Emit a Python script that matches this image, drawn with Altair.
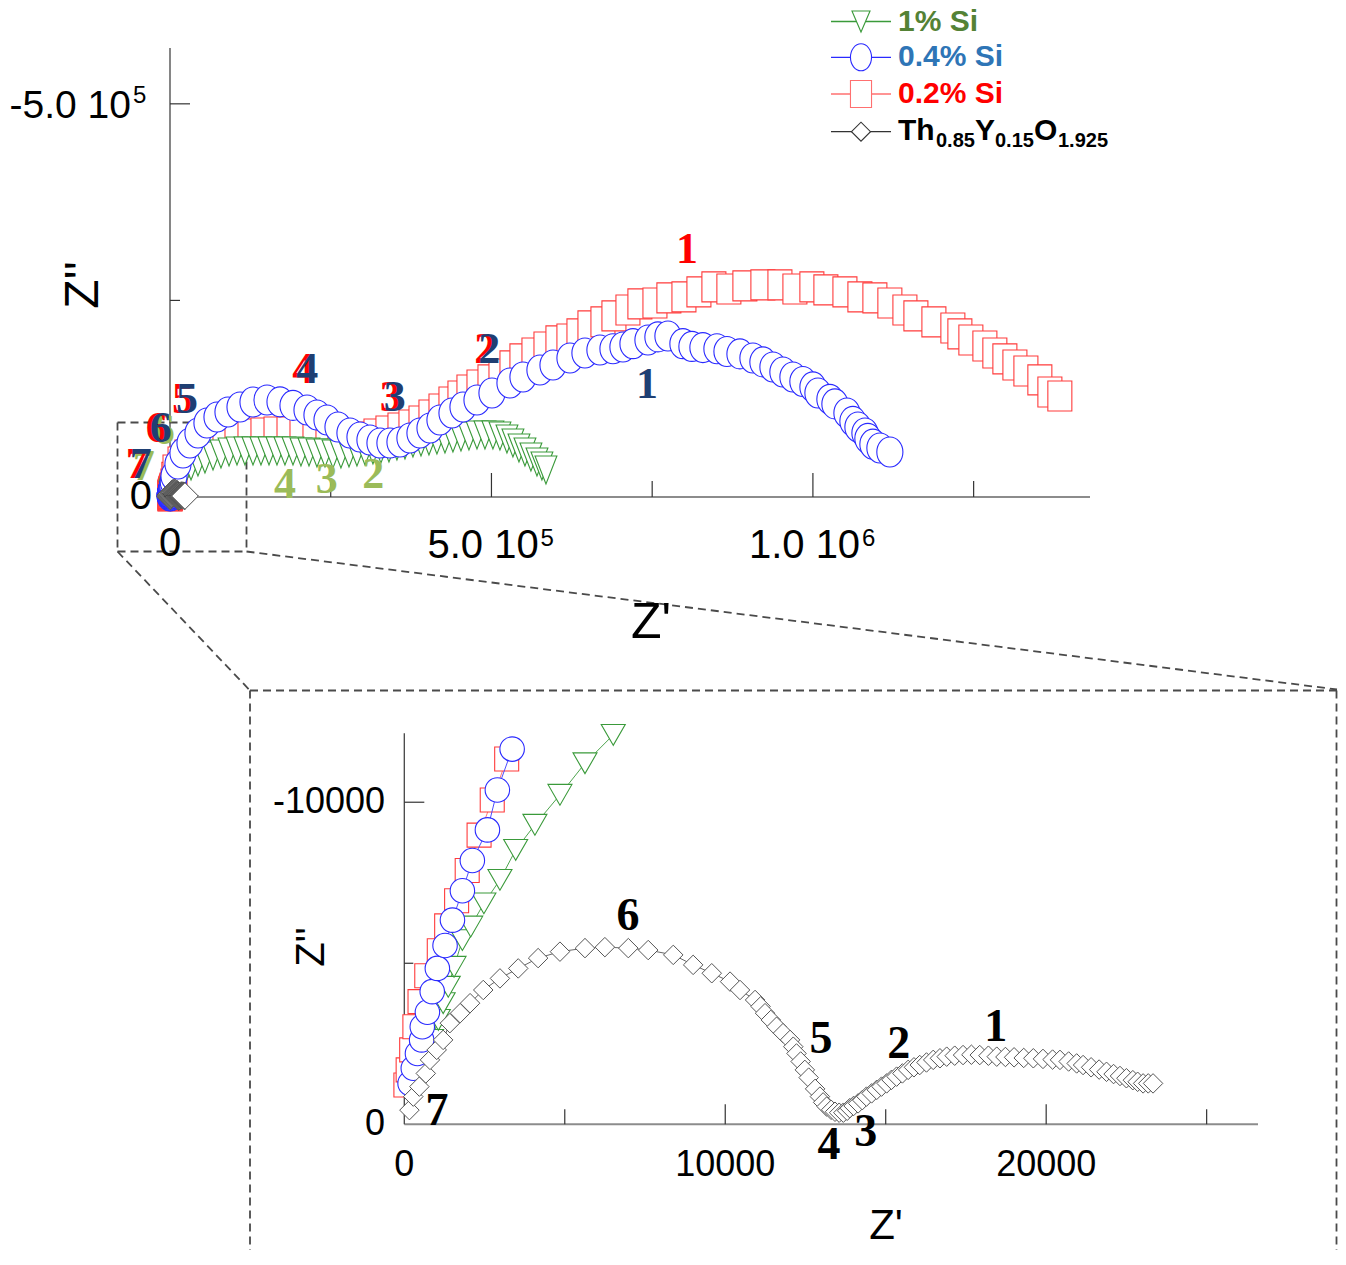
import altair as alt
import pandas as pd

# ---------------- data: Z' and -Z'' in kOhm, in measuring order ----------------
si02_zr = [0.05, 0.12, 0.23, 0.33, 0.49, 0.70, 1.09, 1.32, 1.63, 1.96, 2.33, 2.74, 3.19, 4.6, 6.0,
           7.8, 15.6, 26.4, 38.9, 52.9, 68.4, 85.5, 104.2, 124.4, 144.6,
           164.9, 185.1, 205.3, 225.5, 245.7, 264.4, 283.0, 301.7, 320.4, 339.0,
           357.7, 374.8, 390.4, 405.9, 421.5, 437.0, 451.0, 465.0, 480.6, 497.7,
           514.8, 531.9, 547.4, 566.1, 584.8, 603.4, 620.5, 636.1, 653.2, 673.4,
           690.5, 712.3, 730.9, 754.3, 776.0, 799.4, 822.7, 846.0, 869.3, 894.2,
           922.2, 948.7, 972.0, 998.4, 1020.2, 1049.8, 1073.1, 1096.4, 1119.7, 1143.1,
           1160.2, 1188.2, 1217.7, 1228.6, 1245.7, 1267.5, 1283.0, 1298.6, 1314.2, 1331.3,
           1353.0, 1368.6, 1384.1]
si02_zi = [1.22, 1.69, 2.31, 3.03, 3.81, 4.61, 5.39, 6.16, 6.94, 7.88, 8.98, 10.07, 11.34, 16.5, 25.0,
           34.4, 44.5, 53.4, 59.8, 64.9, 70.0, 73.8, 77.6, 80.2, 81.4,
           82.7, 82.7, 81.4, 78.9, 75.1, 71.2, 72.5, 76.3, 80.2, 84.0,
           87.8, 91.6, 96.7, 104.3, 112.0, 120.9, 128.5, 136.1, 142.5, 148.9,
           156.5, 166.7, 175.6, 183.2, 190.8, 198.5, 201.0, 207.4, 217.6, 222.7,
           230.3, 237.9, 245.6, 246.8, 253.2, 254.5, 260.8, 267.2, 264.6, 268.5,
           269.7, 269.7, 264.6, 267.2, 263.4, 260.8, 254.5, 253.2, 246.8, 237.9,
           230.3, 222.7, 215.0, 207.4, 199.7, 192.1, 183.2, 175.6, 167.9, 160.3,
           148.9, 133.6, 128.5]

si04_zr = [0.18, 0.28, 0.41, 0.54, 0.56, 0.72, 0.87, 1.03, 1.27, 1.50, 1.81, 2.12, 2.59, 2.90, 3.36,
           4.2, 5.1,
           6.2, 12.4, 20.2, 31.1, 43.5, 57.5, 73.1, 90.2, 108.9, 129.1,
           150.9, 171.1, 191.3, 213.1, 228.6, 244.2, 261.3, 279.9, 295.5, 311.0,
           326.6, 342.1, 357.7, 373.2, 388.8, 404.4, 419.9, 438.6, 455.7, 477.5,
           500.8, 528.8, 549.0, 575.4, 595.7, 622.1, 645.4, 668.7, 689.0, 704.5,
           720.1, 743.4, 758.9, 774.5, 797.8, 811.8, 828.9, 850.7, 866.3, 886.5,
           906.7, 922.2, 937.8, 953.3, 968.9, 984.4, 1000.0, 1007.8, 1026.4, 1034.2,
           1052.9, 1062.2, 1070.0, 1080.9, 1085.5, 1093.3, 1104.2, 1119.7]
si04_zi = [1.27, 1.74, 2.20, 2.62, 3.03, 3.48, 4.12, 4.84, 5.55, 6.34, 7.25, 8.19, 9.14, 10.38, 11.65,
           14.5, 19.5,
           26.7, 42.0, 56.0, 68.7, 81.4, 94.2, 101.8, 108.1, 114.5, 120.9,
           123.4, 121.0, 116.5, 110.7, 104.3, 98.0, 89.1, 81.4, 76.3, 72.5,
           68.7, 68.7, 70.0, 75.1, 81.4, 87.8, 98.0, 106.9, 114.5, 123.4,
           132.3, 145.0, 152.7, 161.6, 167.9, 176.8, 183.2, 187.0, 188.5, 190.8,
           195.0, 199.7, 203.6, 204.8, 195.0, 191.5, 190.0, 188.5, 185.0, 182.0,
           176.8, 171.8, 165.4, 159.0, 152.7, 146.9, 140.0, 132.3, 124.2, 118.4,
           106.9, 96.2, 89.1, 81.4, 74.5, 67.2, 62.3, 57.3]

si1_zr = [0.39, 0.54, 0.70, 0.85, 1.06, 1.21, 1.37, 1.55, 1.81, 2.07, 2.48, 2.98, 3.47, 4.07, 4.85, 5.63, 6.51,
          7.6, 8.5,
          9.3, 15.6, 23.3, 32.7, 43.5, 54.4, 66.9, 79.3, 91.8, 104.2,
          116.6, 129.1, 141.5, 154.0, 166.4, 178.8, 191.3, 203.7, 216.2, 228.6,
          241.1, 253.5, 265.9, 278.4, 290.8, 303.3, 315.7, 328.1, 340.6, 353.0,
          365.5, 377.9, 390.4, 402.8, 415.2, 427.7, 440.1, 452.6, 465.0, 477.5,
          489.9, 502.3, 513.2, 524.1, 533.4, 542.8, 552.1, 561.4, 570.8, 578.5,
          584.8]
si1_zi = [1.17, 1.58, 2.10, 2.62, 3.24, 3.76, 4.27, 4.89, 5.72, 6.14, 6.86, 7.59, 8.52, 9.30, 10.23, 11.21, 12.09,
          14.0, 16.5,
          19.1, 26.7, 33.1, 39.4, 44.5, 48.3, 52.2, 54.7, 57.3, 58.5,
          58.5, 58.5, 58.5, 58.5, 58.5, 58.5, 58.5, 57.3, 57.3, 56.0,
          56.0, 54.7, 54.7, 56.0, 57.3, 58.5, 59.8, 61.1, 62.3, 64.9,
          66.2, 68.7, 70.0, 71.2, 72.5, 73.8, 75.1, 76.3, 77.6, 78.9,
          78.9, 78.9, 77.6, 73.8, 68.7, 62.3, 57.3, 50.9, 44.5, 39.4,
          34.4]

thy_zr = [0.16, 0.28, 0.47, 0.67, 0.80, 1.01, 1.21, 1.42, 1.74, 2.05,
          2.46, 2.98, 3.55, 4.17, 4.85, 5.63, 6.25, 6.98, 7.60, 8.38,
          9.00, 9.58, 10.15, 10.46, 10.93, 11.10, 11.24, 11.42, 11.60, 11.80,
          12.02, 12.12, 12.22, 12.35, 12.48, 12.60, 12.80, 12.95, 13.05, 13.16,
          13.30, 13.42, 13.55, 13.68, 13.80, 13.88, 14.00, 14.14, 14.27, 14.40,
          14.56, 14.72, 14.87, 15.03, 15.18, 15.34, 15.52, 15.70, 15.88, 16.06,
          16.27, 16.48, 16.69, 16.90, 17.15, 17.41, 17.67, 17.93, 18.20, 18.46,
          18.73, 19.00, 19.30, 19.60, 19.90, 20.20, 20.43, 20.70, 20.95, 21.15,
          21.40, 21.65, 21.88, 22.10, 22.30, 22.50, 22.70, 22.85, 23.02, 23.18, 23.33]
thy_zi = [0.44, 0.86, 1.17, 1.58, 2.00, 2.31, 2.62, 3.14, 3.45, 3.76,
          4.17, 4.53, 4.84, 5.16, 5.36, 5.47, 5.50, 5.47, 5.41, 5.26,
          4.95, 4.69, 4.43, 4.17, 3.86, 3.66, 3.45, 3.24, 3.03, 2.83,
          2.62, 2.41, 2.20, 1.95, 1.69, 1.45, 1.10, 0.86, 0.68, 0.55,
          0.45, 0.39, 0.36, 0.36, 0.42, 0.50, 0.57, 0.65, 0.75, 0.86,
          0.96, 1.07, 1.17, 1.27, 1.38, 1.48, 1.58, 1.69, 1.77, 1.84,
          1.92, 2.00, 2.05, 2.10, 2.13, 2.15, 2.16, 2.15, 2.13, 2.10,
          2.09, 2.08, 2.06, 2.05, 2.03, 2.01, 2.00, 1.95, 1.89, 1.84,
          1.77, 1.70, 1.63, 1.56, 1.50, 1.43, 1.37, 1.32, 1.27, 1.27, 1.27]

# frequency-point annotations (kOhm, data coordinates)
top_num_text = ["2", "3", "4", "5", "6", "7"]
top_num_zr = [495, 348, 212, 25, -16, -47]
top_num_zi = [187, 126, 162, 123, 87, 41]
top_one_red = ([804], [314])
top_one_navy = ([742], [143])
top_green_text = ["2", "3", "4"]
top_green_zr = [316, 244, 179]
top_green_zi = [28, 22, 15]
top_green_dup_text = ["6", "7"]
top_green_dup_zr = [-16, -47]
top_green_dup_zi = [87, 41]
bot_num_text = ["1", "2", "3", "4", "5", "6", "7"]
bot_num_zr = [18.43, 15.41, 14.38, 13.23, 12.98, 6.97, 1.02]
bot_num_zi = [3.02, 2.49, -0.24, -0.64, 2.65, 6.47, 0.41]

# axes (Ohm)
TOP_X_MAX, TOP_Y_MAX = 1431000, 571000
BOT_X_MAX, BOT_Y_MAX = 26600, 12140
top_x_exp_vals = [500000, 1000000]
top_x_mant = ["5.0 10", "1.0 10"]
top_x_pow = ["5", "6"]
top_y_exp_vals = [500000]
top_y_mant = ["-5.0 10"]
top_y_pow = ["5"]
top_zero = [0]
top_x_major = [500000, 1000000]
top_x_minor = [250000, 750000, 1250000]
top_y_major = [500000]
top_y_minor = [250000]
bot_x_labels = [0, 10000, 20000]
bot_x_texts = ["0", "10000", "20000"]
bot_x_major = [10000, 20000]
bot_x_minor = [5000, 15000, 25000]
bot_y_labels = [0, 10000]
bot_y_texts = ["0", "-10000"]
bot_y_major = [10000]
bot_y_minor = [5000]

K = 1000.0


def frame(zr, zi):
    return pd.DataFrame({"zr": [v * K for v in zr], "zi": [v * K for v in zi],
                         "i": list(range(len(zr)))})


def labels_frame(t, zr, zi):
    return pd.DataFrame({"t": t, "zr": [v * K for v in zr], "zi": [v * K for v in zi]})


# ---------------- layout (page pixels; the view starts at the 8px page margin) -------
W, H = 1330, 1242
M = 8


def vx(p):
    return p - M


def vy(p):
    return p - M


TOP_X = alt.Scale(domain=[0, TOP_X_MAX], range=[vx(170), vx(1090)], nice=False, zero=False)
TOP_Y = alt.Scale(domain=[0, TOP_Y_MAX], range=[vy(497), vy(48)], nice=False, zero=False)
BOT_X = alt.Scale(domain=[0, BOT_X_MAX], range=[vx(404.3), vx(1258)], nice=False, zero=False)
BOT_Y = alt.Scale(domain=[0, BOT_Y_MAX], range=[vy(1124.3), vy(733.3)], nice=False, zero=False)

SANS = "Liberation Sans"
SERIF = "Liberation Serif"

RED, RED_LINE = "#ff3b3b", "#ff6a6a"
BLUE, BLUE_LINE = "#2a2aff", "#3a3aff"
GREEN, GREEN_LINE = "#3a9a3a", "#3a9a3a"

RECT_TALL = "M-0.8,-1H0.8V1H-0.8Z"
ELLIPSE_TALL = ("M0.87,0C0.87,0.5523,0.4805,1,0,1C-0.4805,1,-0.87,0.5523,-0.87,0"
                "C-0.87,-0.5523,-0.4805,-1,0,-1C0.4805,-1,0.87,-0.5523,0.87,0Z")
TRI_TALL = "M-0.78,-1L0.78,-1L0,1Z"
RECT_LEG = "M-0.78,-1H0.78V1H-0.78Z"
ELLIPSE_LEG = ("M0.78,0C0.78,0.5523,0.4308,1,0,1C-0.4308,1,-0.78,0.5523,-0.78,0"
               "C-0.78,-0.5523,-0.4308,-1,0,-1C0.4308,-1,0.78,-0.5523,0.78,0Z")
TRI_LEG = "M-0.86,-1L0.86,-1L0,1Z"


def X(field, sx):
    return alt.X(field, scale=sx, axis=None, title=None)


def Y(field, sy):
    return alt.Y(field, scale=sy, axis=None, title=None)


def series(df, sx, sy, stroke, line_color, shape, size, sw=1.1, filt=None):
    base = alt.Chart(df)
    if filt is not None:
        base = base.transform_filter(filt)
    line = base.mark_line(color=line_color, strokeWidth=0.9).encode(
        x=X("zr:Q", sx), y=Y("zi:Q", sy), order="i:Q")
    pts = base.mark_point(shape=shape, size=size, filled=True, fill="white", stroke=stroke,
                          strokeWidth=sw, opacity=1, fillOpacity=1, strokeOpacity=1).encode(
        x=X("zr:Q", sx), y=Y("zi:Q", sy))
    return [line, pts]


def axis_lines(sx, sy, xmax, ymax):
    xline = alt.Chart(pd.DataFrame({"a": [0], "b": [xmax], "c": [0]})).mark_rule(
        color="#8c8c8c", strokeWidth=2).encode(x=X("a:Q", sx), x2="b:Q", y=Y("c:Q", sy))
    yline = alt.Chart(pd.DataFrame({"a": [0], "b": [ymax], "c": [0]})).mark_rule(
        color="#444", strokeWidth=1.3).encode(y=Y("a:Q", sy), y2="b:Q", x=X("c:Q", sx))
    return [xline, yline]


def ticks_x(vals, sx, axis_px, length):
    return alt.Chart(pd.DataFrame({"v": vals})).mark_rule(color="#333", strokeWidth=1.2).encode(
        x=X("v:Q", sx), y=alt.value(vy(axis_px)), y2=alt.value(vy(axis_px) - length))


def ticks_y(vals, sy, axis_px, length):
    return alt.Chart(pd.DataFrame({"v": vals})).mark_rule(color="#333", strokeWidth=1.2).encode(
        y=Y("v:Q", sy), x=alt.value(vx(axis_px)), x2=alt.value(vx(axis_px) + length))


def x_text(vals, texts, sx, y_px, size, align="center", baseline="middle", dx=0):
    return alt.Chart(pd.DataFrame({"v": vals, "t": texts})).mark_text(
        font=SANS, fontSize=size, color="#000", align=align, baseline=baseline, dx=dx).encode(
        x=X("v:Q", sx), y=alt.value(vy(y_px)), text="t:N")


def y_text(vals, texts, sy, x_px, size, align="right", baseline="middle", dy=0):
    return alt.Chart(pd.DataFrame({"v": vals, "t": texts})).mark_text(
        font=SANS, fontSize=size, color="#000", align=align, baseline=baseline, dy=dy).encode(
        y=Y("v:Q", sy), x=alt.value(vx(x_px)), text="t:N")


def numbers(df, sx, sy, color, size, dx=0, dy=0):
    return alt.Chart(df).mark_text(font=SERIF, fontWeight="bold", fontSize=size, color=color,
                                   dx=dx, dy=dy, align="center", baseline="middle").encode(
        x=X("zr:Q", sx), y=Y("zi:Q", sy), text="t:N")


ONE = pd.DataFrame({"k": [0]})


def seg(x1, y1, x2, y2):
    return alt.Chart(ONE).mark_rule(color="#4a4a4a", strokeWidth=1.8, strokeDash=[8, 5]).encode(
        x=alt.value(vx(x1)), y=alt.value(vy(y1)), x2=alt.value(vx(x2)), y2=alt.value(vy(y2)))


def label(txt, x, y, size, color="#000", weight="normal", font=SANS, angle=0, align="center",
          baseline="middle"):
    return alt.Chart(ONE).mark_text(text=txt, font=font, fontSize=size, color=color, fontWeight=weight,
                                    angle=angle, align=align, baseline=baseline).encode(
        x=alt.value(vx(x)), y=alt.value(vy(y)))


# ---------------- decorations: zoom box and connectors ----------------
deco = [
    seg(117.5, 422.5, 246.5, 422.5), seg(117.5, 422.5, 117.5, 551.5),
    seg(246.5, 422.5, 246.5, 551.5), seg(117.5, 551.5, 246.5, 551.5),
    seg(117.5, 551.5, 250, 690.5), seg(246.5, 551.5, 1337, 689.5),
    seg(250, 690.5, 1337, 690.5), seg(250, 690.5, 250, 1252), seg(1336.5, 690.5, 1336.5, 1252),
]

# ---------------- top (full) panel ----------------
top_layers = axis_lines(TOP_X, TOP_Y, TOP_X_MAX, TOP_Y_MAX)
top_layers += series(frame(si02_zr, si02_zi), TOP_X, TOP_Y, RED, RED_LINE, RECT_TALL, 900)
top_layers += series(frame(si1_zr, si1_zi), TOP_X, TOP_Y, GREEN, GREEN_LINE, TRI_TALL, 784)
top_layers += series(frame(si04_zr, si04_zi), TOP_X, TOP_Y, BLUE, BLUE_LINE, ELLIPSE_TALL, 900)
top_layers += series(frame(thy_zr, thy_zi), TOP_X, TOP_Y, "#444", "#666", "diamond", 700, sw=0.8)
top_layers += [
    ticks_x(top_x_major, TOP_X, 497, 24), ticks_x(top_x_minor, TOP_X, 497, 16),
    ticks_y(top_y_major, TOP_Y, 170, 20), ticks_y(top_y_minor, TOP_Y, 170, 10),
    # x tick labels: "0", then mantissa + raised exponent
    x_text(top_zero, ["0"], TOP_X, 544, 40),
    x_text(top_x_exp_vals, top_x_mant, TOP_X, 558, 40, align="left", baseline="alphabetic", dx=-64),
    x_text(top_x_exp_vals, top_x_pow, TOP_X, 546, 24, align="left", baseline="alphabetic", dx=49),
    # y tick labels
    y_text(top_zero, ["0"], TOP_Y, 152, 40),
    y_text(top_y_exp_vals, top_y_mant, TOP_Y, 131, 39, baseline="alphabetic", dy=14),
    y_text(top_y_exp_vals, top_y_pow, TOP_Y, 133, 24, align="left", baseline="alphabetic", dy=-1),
    numbers(labels_frame(top_green_text, top_green_zr, top_green_zi), TOP_X, TOP_Y, "#9bbb59", 44),
    numbers(labels_frame(top_green_dup_text, top_green_dup_zr, top_green_dup_zi), TOP_X, TOP_Y, "#9bbb59", 44, dx=4, dy=2),
    numbers(labels_frame(top_num_text, top_num_zr, top_num_zi), TOP_X, TOP_Y, "#ff0000", 44, dx=-3),
    numbers(labels_frame(top_num_text, top_num_zr, top_num_zi), TOP_X, TOP_Y, "#1f3f73", 44, dx=1),
    numbers(labels_frame(["1"], *top_one_red), TOP_X, TOP_Y, "#ff0000", 44),
    numbers(labels_frame(["1"], *top_one_navy), TOP_X, TOP_Y, "#1f3f73", 44),
]
top = alt.layer(*top_layers)

# ---------------- bottom (zoomed) panel ----------------
IN_BOX = "datum.zi <= 12140 && datum.zr <= 26600"

bot_layers = axis_lines(BOT_X, BOT_Y, BOT_X_MAX, BOT_Y_MAX)
bot_layers += series(frame(si02_zr, si02_zi), BOT_X, BOT_Y, RED, RED_LINE, "square", 576, filt=IN_BOX)
bot_layers += series(frame(si1_zr, si1_zi), BOT_X, BOT_Y, GREEN, GREEN_LINE, "triangle-down", 576, filt=IN_BOX)
bot_layers += series(frame(si04_zr, si04_zi), BOT_X, BOT_Y, BLUE, BLUE_LINE, "circle", 600, filt=IN_BOX)
bot_layers += series(frame(thy_zr, thy_zi), BOT_X, BOT_Y, "#555", "#555", "diamond", 380, sw=1.0, filt=IN_BOX)
bot_layers += [
    ticks_x(bot_x_major, BOT_X, 1124.3, 20), ticks_x(bot_x_minor, BOT_X, 1124.3, 15),
    ticks_y(bot_y_major, BOT_Y, 404.3, 20), ticks_y(bot_y_minor, BOT_Y, 404.3, 9),
    x_text(bot_x_labels, bot_x_texts, BOT_X, 1165, 36),
    y_text(bot_y_labels, bot_y_texts, BOT_Y, 385, 36),
    numbers(labels_frame(bot_num_text, bot_num_zr, bot_num_zi), BOT_X, BOT_Y, "#000", 46),
]
bot = alt.layer(*bot_layers)

# ---------------- titles ----------------
titles = [
    label("Z''", 84, 285, 48, angle=270),
    label("Z'", 651, 623, 50),
    label("Z''", 312, 947, 40, angle=270),
    label("Z'", 886, 1226, 42),
]

# ---------------- legend ----------------
LEG_Y = [21.5, 57.3, 94, 131.7]
leg = []
leg_items = [
    ("1% Si", "#548235", GREEN, TRI_LEG, 441),
    ("0.4% Si", "#2e75b6", BLUE, ELLIPSE_LEG, 729),
    ("0.2% Si", "#ff0000", "#ff7070", RECT_LEG, 729),
    (None, "#000", "#333", "diamond", 361),
]
for (txt, tcol, mcol, shp, sz), ly in zip(leg_items, LEG_Y):
    leg.append(alt.Chart(ONE).mark_rule(color=mcol, strokeWidth=1.3).encode(
        x=alt.value(vx(831)), x2=alt.value(vx(891)), y=alt.value(vy(ly)), y2=alt.value(vy(ly))))
    leg.append(alt.Chart(ONE).mark_point(shape=shp, size=sz, filled=True, fill="white", stroke=mcol,
                                         strokeWidth=1.1, opacity=1).encode(
        x=alt.value(vx(861)), y=alt.value(vy(ly))))
    if txt is not None:
        leg.append(label(txt, 898, ly + 9, 30, color=tcol, weight="bold", align="left", baseline="alphabetic"))

formula = [("Th", 898, 0, 30), ("0.85", 936, 7, 20), ("Y", 975, 0, 30), ("0.15", 995, 7, 20),
           ("O", 1034, 0, 30), ("1.925", 1058, 7, 20)]
for txt, x, d, sz in formula:
    leg.append(label(txt, x, LEG_Y[3] + 8.5 + d, sz, weight="bold", align="left", baseline="alphabetic"))

chart = alt.layer(*deco, top, bot, *titles, *leg).resolve_scale(
    x="independent", y="independent"
).properties(
    width=W, height=H, padding=0, autosize=alt.AutoSizeParams(type="none")
).configure_view(strokeWidth=0)

chart.save("out.html", embed_options={"renderer": "svg", "actions": False})
